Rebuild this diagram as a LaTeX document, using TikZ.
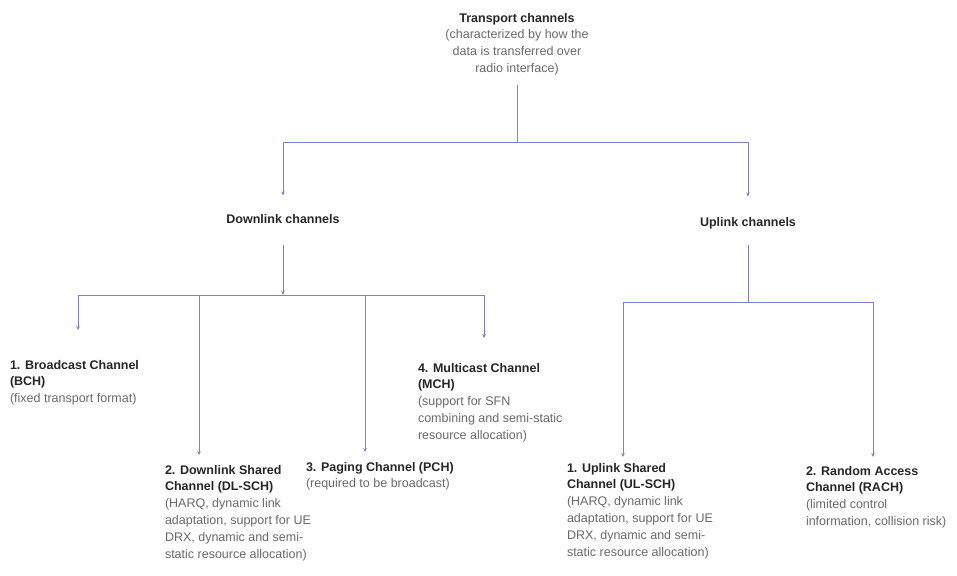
\documentclass[tikz,border=0pt]{standalone}
\usepackage{fontspec}
\setmainfont{Liberation Sans}
\usetikzlibrary{arrows.meta}

\definecolor{linkblue}{HTML}{7A80D4}
\definecolor{headtext}{HTML}{262626}
\definecolor{desctext}{HTML}{6A6A6A}

\newcommand\chhead[1]{\textbf{#1}}
\newcommand\chdesc[1]{\textcolor{desctext}{#1}}

\tikzset{
  link/.style={draw=linkblue, line width=0.9pt},
  arr/.style={link, -{Stealth[length=4pt,width=3.6pt]}},
  lbl/.style={inner sep=0pt, outer sep=0pt, align=left, anchor=north west,
              text=headtext, font=\fontsize{12.5}{16.8}\selectfont},
}

\begin{document}
\begin{tikzpicture}[x=1pt,y=-1pt]
\useasboundingbox (0,0) rectangle (957,575);
\fill[white] (0,0) rectangle (957,575);

% root
\node[lbl, align=center, anchor=north] (tc) at (517,13)
  {\chhead{Transport channels}\\
   \chdesc{(characterized by how the}\\
   \chdesc{data is transferred over}\\
   \chdesc{radio interface)}};

% direction groups
\node[lbl, anchor=base] (dl) at (283,223.5) {\chhead{Downlink channels}};
\node[lbl, anchor=base] (ul) at (748,226.5) {\chhead{Uplink channels}};

% downlink channels
\node[lbl] (bch) at (10,360)
  {\chhead{1. Broadcast Channel}\\
   \chhead{(BCH)}\\
   \chdesc{(fixed transport format)}};
\node[lbl] (dlsch) at (165,465)
  {\chhead{2. Downlink Shared}\\
   \chhead{Channel (DL-SCH)}\\
   \chdesc{(HARQ, dynamic link}\\
   \chdesc{adaptation, support for UE}\\
   \chdesc{DRX, dynamic and semi-}\\
   \chdesc{static resource allocation)}};
\node[lbl] (pch) at (306,462)
  {\chhead{3. Paging Channel (PCH)}\\
   \chdesc{(required to be broadcast)}};
\node[lbl] (mch) at (418,363)
  {\chhead{4. Multicast Channel}\\
   \chhead{(MCH)}\\
   \chdesc{(support for SFN}\\
   \chdesc{combining and semi-static}\\
   \chdesc{resource allocation)}};

% uplink channels
\node[lbl] (ulsch) at (567,463)
  {\chhead{1. Uplink Shared}\\
   \chhead{Channel (UL-SCH)}\\
   \chdesc{(HARQ, dynamic link}\\
   \chdesc{adaptation, support for UE}\\
   \chdesc{DRX, dynamic and semi-}\\
   \chdesc{static resource allocation)}};
\node[lbl] (rach) at (806,466)
  {\chhead{2. Random Access}\\
   \chhead{Channel (RACH)}\\
   \chdesc{(limited control}\\
   \chdesc{information, collision risk)}};

% root to downlink / uplink
\coordinate (tbar) at (517,142);
\draw[link, shorten <=10pt] (tc) -- (tbar);
\draw[arr, shorten >=19pt] (tbar) -| (dl);
\draw[arr, shorten >=21pt] (tbar) -| (ul);

% downlink tree
\coordinate (dbar) at (283,295);
\coordinate (d1) at (78,295);
\coordinate (d2) at (199,295);
\coordinate (d3) at (365,295);
\coordinate (d4) at (484,295);
\draw[arr, shorten <=21pt] (dl) -- (dbar);
\draw[link] (d1) -- (d4);
\draw[arr, shorten >=30pt] (d1) -- (d1 |- bch.north);
\draw[arr, shorten >=10pt] (d2) -- (d2 |- dlsch.north);
\draw[arr, shorten >=10pt] (d3) -- (d3 |- pch.north);
\draw[arr, shorten >=25pt] (d4) -- (d4 |- mch.north);

% uplink tree
\coordinate (ubar) at (748,302);
\coordinate (u1) at (623,302);
\coordinate (u2) at (873,302);
\draw[link, shorten <=16pt] (ul) -- (ubar);
\draw[link] (u1) -- (u2);
\draw[arr, shorten >=6pt] (u1) -- (u1 |- ulsch.north);
\draw[arr, shorten >=9pt] (u2) -- (u2 |- rach.north);
\end{tikzpicture}
\end{document}
